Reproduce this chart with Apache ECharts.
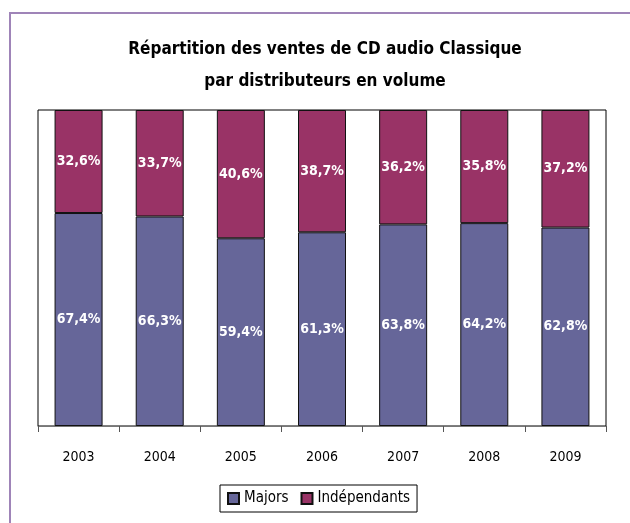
<!DOCTYPE html>
<html>
<head>
<meta charset="utf-8">
<script src="https://cdn.jsdelivr.net/npm/echarts@6/dist/echarts.min.js"></script>
<style>
html, body { margin: 0; padding: 0; background: #fff; }
#chart { width: 630px; height: 523px; }
</style>
</head>
<body>
<div id="chart"></div>
<script>
// données
const years = ["2003", "2004", "2005", "2006", "2007", "2008", "2009"];
const majors = [67.4, 66.3, 59.4, 61.3, 63.8, 64.2, 62.8];
const independants = [32.6, 33.7, 40.6, 38.7, 36.2, 35.8, 37.2];

const FONT = "'Liberation Sans Narrow', 'DejaVu Sans Condensed', sans-serif";

const fmt = (p) => p.value.toFixed(1).replace(".", ",") + "%";

const chart = echarts.init(document.getElementById("chart"));

const option = {
  backgroundColor: "#FFFFFF",
  animation: false,
  textStyle: { fontFamily: FONT },
  graphic: [
    {
      type: "rect",
      shape: { x: 10, y: 13, width: 640, height: 540 },
      style: { fill: "none", stroke: "#9f84b8", lineWidth: 2 },
      z: -1,
    },
  ],
  title: {
    text: "Répartition des ventes de CD audio Classique\npar distributeurs en volume",
    left: 320,
    textAlign: "center",
    top: 29,
    textStyle: {
      fontFamily: FONT,
      fontSize: 17,
      fontWeight: "bold",
      color: "#000",
      lineHeight: 32,
    },
  },
  legend: {
    left: 220,
    top: 485,
    padding: [6, 7, 6, 7],
    borderColor: "#000",
    borderWidth: 1,
    itemWidth: 11,
    itemHeight: 11,
    itemGap: 12,
    textStyle: { fontFamily: FONT, fontSize: 15, color: "#000" },
    data: [
      { name: "Majors", icon: "rect" },
      { name: "Indépendants", icon: "rect" },
    ],
  },
  grid: {
    left: 38,
    right: 24,
    top: 110,
    bottom: 97,
    show: true,
    borderColor: "#000",
    borderWidth: 1,
  },
  xAxis: {
    type: "category",
    data: years,
    axisLine: { lineStyle: { color: "#777" } },
    axisTick: { show: true, length: 6, lineStyle: { color: "#555" } },
    axisLabel: { fontFamily: FONT, fontSize: 14, color: "#000", margin: 24 },
  },
  yAxis: {
    type: "value",
    min: 0,
    max: 100,
    show: false,
  },
  series: [
    {
      name: "Majors",
      type: "bar",
      stack: "total",
      data: majors,
      barWidth: 48,
      itemStyle: { color: "#666699", borderColor: "#111", borderWidth: 1 },
      label: {
        show: true,
        position: "inside",
        color: "#fff",
        fontFamily: FONT,
        fontWeight: "bold",
        fontSize: 14,
        formatter: fmt,
      },
    },
    {
      name: "Indépendants",
      type: "bar",
      stack: "total",
      data: independants,
      barWidth: 48,
      itemStyle: { color: "#993366", borderColor: "#111", borderWidth: 1 },
      label: {
        show: true,
        position: "inside",
        color: "#fff",
        fontFamily: FONT,
        fontWeight: "bold",
        fontSize: 14,
        formatter: fmt,
      },
    },
  ],
};

chart.setOption(option);
</script>
</body>
</html>
